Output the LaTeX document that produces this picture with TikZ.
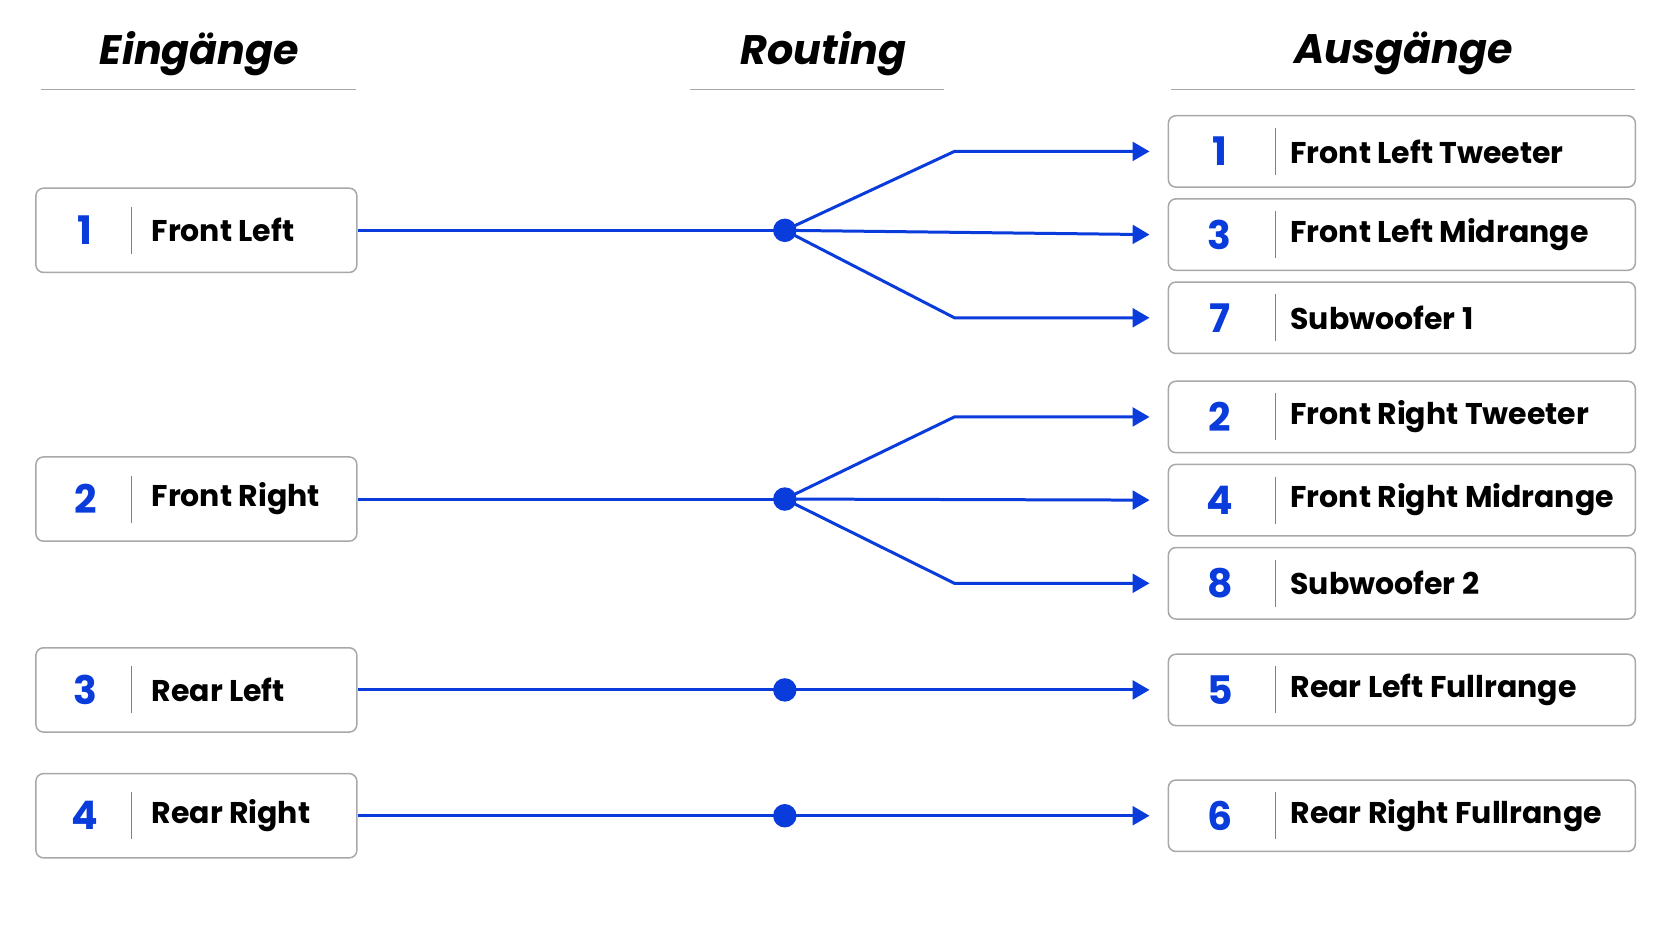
\documentclass[tikz,border=0pt]{standalone}
\usepackage{fontspec}
\setmainfont{Poppins}
\usetikzlibrary{arrows.meta,positioning}
\definecolor{routeblue}{HTML}{0A3BDB}
\definecolor{boxgray}{HTML}{A8A8A8}
\tikzset{
  box/.style={draw=boxgray, line width=0.8pt, rounded corners=4pt, fill=white, anchor=west},
  num/.style={text=routeblue, font=\fontsize{21}{21}\selectfont\bfseries},
  lbl/.style={anchor=west, font=\fontsize{16}{16}\selectfont\bfseries},
  head/.style={font=\fontsize{22}{22}\selectfont\bfseries\itshape},
  wire/.style={routeblue, line width=1.6pt},
  dot/.style={circle, fill=routeblue, inner sep=0pt, minimum size=0.44cm},
}
\begin{document}
\begin{tikzpicture}[x=0.02cm, y=-0.02cm]
  \useasboundingbox (0,0) rectangle (1568,882);
  %% headers
  \node[head] (hin) at (187,50) {Eingänge};
  \node[head] (hrt) at (772,50) {Routing};
  \node[head] (hout) at (1316,50) {Ausgänge};
  \draw[boxgray] (38,84) -- (334,84);
  \draw[boxgray] (647,84) -- (885,84);
  \draw[boxgray] (1098,84) -- (1533,84);

  %% inputs
  \foreach \n/\y/\t in {1/216/Front Left, 2/468/Front Right, 3/647/Rear Left, 4/765/Rear Right} {
    \node[box, minimum width=6.02cm, minimum height=1.58cm] (in\n) at (33,\y) {};
    \node[num] at (80,\y) {\n};
    \draw[gray] (123,\y-22) -- (123,\y+22);
    \node[lbl] at (136,\y) {\t};
    \node[dot] (d\n) at (736,\y) {};
  }

  %% outputs
  \foreach \k/\n/\y/\t in {a/1/142/Front Left Tweeter, b/3/220/Front Left Midrange,
      c/7/298/Subwoofer 1, d/2/391/Front Right Tweeter, e/4/469/Front Right Midrange,
      f/8/547/Subwoofer 2, g/5/647/Rear Left Fullrange, h/6/765/Rear Right Fullrange} {
    \node[box, minimum width=8.76cm, minimum height=1.34cm] (out\k) at (1095,\y) {};
    \node[num] at (1144,\y) {\n};
    \draw[gray] (1196,\y-22) -- (1196,\y+22);
    \node[lbl] at (1204,\y) {\t};
    \coordinate (tip\k) at (1078,\y);
  }

  %% wires
  \draw[wire] (in1.east) -- (d1.center);
  \draw[wire] (in2.east) -- (d2.center);
  \draw[wire] (in3.east) -- (d3.center);
  \draw[wire] (in4.east) -- (d4.center);
  \draw[wire,-{Triangle[length=9pt,width=10pt]}] (d1.center) -- (895,142) -- (tipa);
  \draw[wire,-{Triangle[length=9pt,width=10pt]}] (d1.center) -- (tipb);
  \draw[wire,-{Triangle[length=9pt,width=10pt]}] (d1.center) -- (895,298) -- (tipc);
  \draw[wire,-{Triangle[length=9pt,width=10pt]}] (d2.center) -- (895,391) -- (tipd);
  \draw[wire,-{Triangle[length=9pt,width=10pt]}] (d2.center) -- (tipe);
  \draw[wire,-{Triangle[length=9pt,width=10pt]}] (d2.center) -- (895,547) -- (tipf);
  \draw[wire,-{Triangle[length=9pt,width=10pt]}] (d3.center) -- (tipg);
  \draw[wire,-{Triangle[length=9pt,width=10pt]}] (d4.center) -- (tiph);
\end{tikzpicture}
\end{document}
